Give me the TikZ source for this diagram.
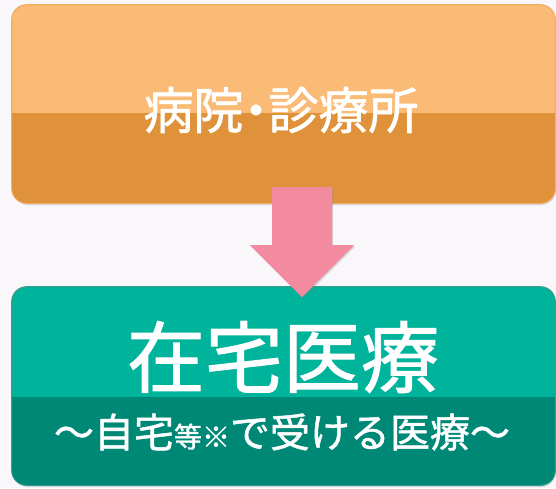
\documentclass[tikz,border=0pt]{standalone}
\usepackage{fontspec}
\setmainfont{Noto Sans CJK JP}[FakeBold=1.2]
\usetikzlibrary{positioning,shadows}
\definecolor{pagebg}{HTML}{F9F7FA}
\definecolor{orangelight}{HTML}{F9BB75}
\definecolor{orangedark}{HTML}{E0923A}
\definecolor{orangeedge}{HTML}{F3AE62}
\definecolor{greenlight}{HTML}{00B39B}
\definecolor{greendark}{HTML}{008877}
\definecolor{greenedge}{HTML}{2FA08F}
\definecolor{arrowpink}{HTML}{F28BA0}

\begin{document}
\begin{tikzpicture}[x=1pt, y=-1pt,
		panel/.style={rectangle, rounded corners=15pt, minimum width=543pt, minimum height=198pt, inner sep=0pt, line width=0.8pt, drop shadow={opacity=0.3, shadow xshift=1pt, shadow yshift=-2pt}},
		label/.style={text=white, inner sep=0pt}]
		\fill[pagebg] (0,0) rectangle (556,488);

		% top panel
		\node[panel, fill=orangelight, draw=orangeedge] (hosp) at (283.5,104) {};
		\begin{scope}
			\clip[rounded corners=15pt] (hosp.south west) rectangle (hosp.north east);
			\fill[orangedark] ([yshift=-9pt]hosp.west) rectangle (hosp.south east);
		\end{scope}
		\draw[orangeedge, line width=0.8pt, rounded corners=15pt] (hosp.south west) rectangle (hosp.north east);
		\node[label, font=\fontsize{50}{50}\selectfont\addfontfeature{RawFeature=+palt}] (hosptext) at (281,110) {病院・診療所};

		% bottom panel
		\node[panel, fill=greenlight, draw=greenedge] (home) at (283.5,386) {};
		\begin{scope}
			\clip[rounded corners=15pt] (home.south west) rectangle (home.north east);
			\fill[greendark] ([yshift=-11pt]home.west) rectangle (home.south east);
		\end{scope}
		\draw[greenedge, line width=0.8pt, rounded corners=15pt] (home.south west) rectangle (home.north east);
		\node[label, font=\fontsize{78}{78}\selectfont] (hometitle) at (283,357) {在宅医療};
		\node[label, font=\fontsize{40}{40}\selectfont] (homesub) at (282,432) {〜自宅{\fontsize{28}{28}\selectfont 等※}で受ける医療〜};

		% arrow
		\coordinate (from) at (302,187);
		\coordinate (to) at (302,297);
		\fill[arrowpink, drop shadow={opacity=0.3, shadow xshift=1pt, shadow yshift=-1.5pt}]
			([xshift=-30pt]from) -- ++(60,0) -- ++(0,58) -- ++(22,0) -- (to) -- ++(-52,-52) -- ++(22,0) -- cycle;
	\end{tikzpicture}
\end{document}
